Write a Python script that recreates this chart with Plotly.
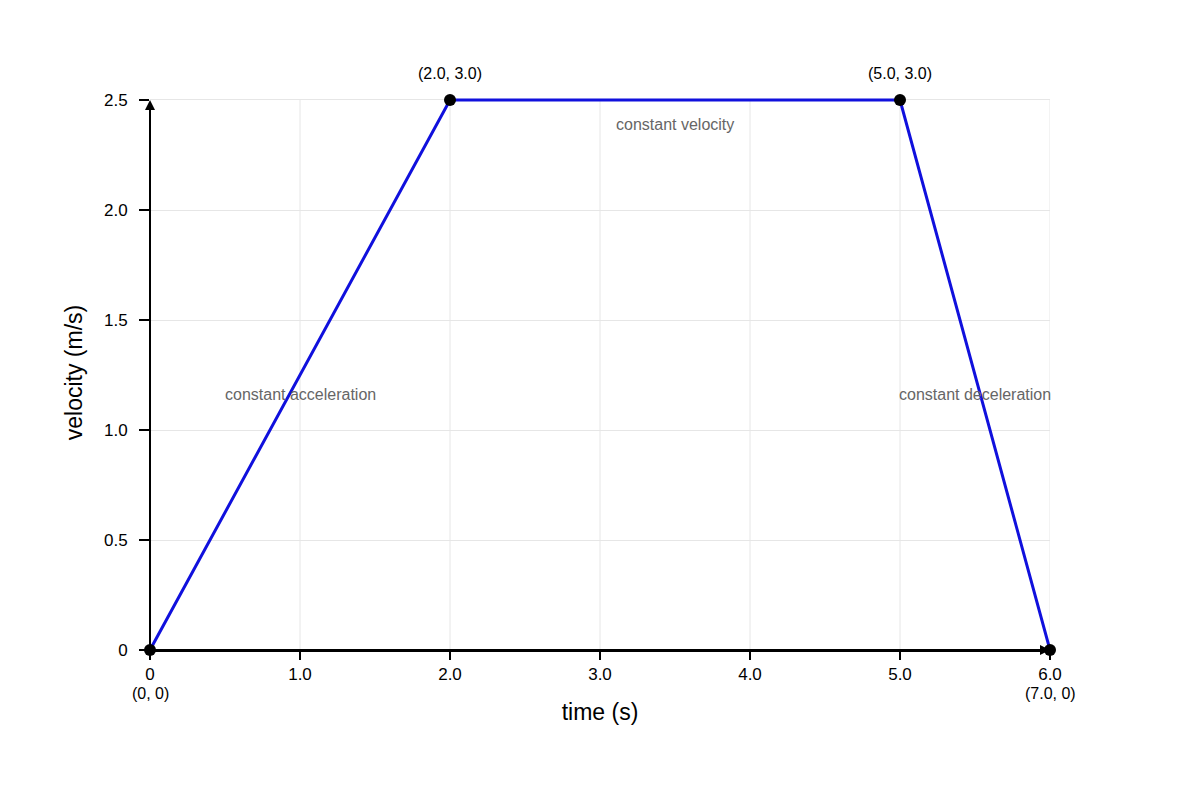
import plotly.graph_objects as go

# trapezoid velocity profile
time_s = [0, 2, 5, 6]
velocity = [0, 2.5, 2.5, 0]
point_labels = ['(0, 0)', '(2.0, 3.0)', '(5.0, 3.0)', '(7.0, 0)']
label_pos = ['below', 'above', 'above', 'below']

phase_x = [1.0, 3.5, 5.5]
phase_y = [1.16, 2.39, 1.16]
phase_text = ['constant acceleration', 'constant velocity', 'constant deceleration']

x_ticks = [0, 1, 2, 3, 4, 5, 6]
x_ticktext = ['0', '1.0', '2.0', '3.0', '4.0', '5.0', '6.0']
y_ticks = [0, 0.5, 1.0, 1.5, 2.0, 2.5]
y_ticktext = ['0', '0.5', '1.0', '1.5', '2.0', '2.5']
y_top = y_ticks[-1]

fig = go.Figure()
fig.add_trace(go.Scatter(
    x=time_s, y=velocity, mode='lines',
    line=dict(color='#1010dd', width=3),
    showlegend=False, cliponaxis=False, hoverinfo='skip'))

annotations = []
# axis arrows
annotations.append(dict(x=0, y=y_top, ax=0, ay=0, xref='x', yref='y', axref='x', ayref='y',
                        showarrow=True, arrowhead=2, arrowsize=1, arrowwidth=2, arrowcolor='black', text=''))
annotations.append(dict(x=x_ticks[-1], y=0, ax=0, ay=0, xref='x', yref='y', axref='x', ayref='y',
                        showarrow=True, arrowhead=2, arrowsize=1, arrowwidth=2, arrowcolor='black', text=''))
for x, y, t, pos in zip(time_s, velocity, point_labels, label_pos):
    annotations.append(dict(x=x, y=y, xref='x', yref='y', text=t, showarrow=False,
                            yshift=26 if pos == 'above' else -43,
                            font=dict(size=16, color='black')))
for x, y, t in zip(phase_x, phase_y, phase_text):
    annotations.append(dict(x=x, y=y, xref='x', yref='y', text=t, showarrow=False,
                            font=dict(size=16, color='#666666')))

# vertical grid drawn by hand so it stops at 2.5
shapes = [dict(type='line', xref='x', yref='y', x0=t, x1=t, y0=0, y1=y_top,
               line=dict(color='#e6e6e6', width=1), layer='below') for t in x_ticks[1:]]

fig.add_trace(go.Scatter(
    x=time_s, y=velocity, mode='markers',
    marker=dict(color='black', size=12),
    showlegend=False, cliponaxis=False, hoverinfo='skip'))

# a little headroom above 2.5 so the flat segment is not clipped
fig.update_layout(
    width=1200, height=800,
    margin=dict(l=142, r=158, t=87, b=158),
    plot_bgcolor='white', paper_bgcolor='white',
    font=dict(family='Liberation Sans, Arial, sans-serif', size=17, color='black'),
    annotations=annotations, shapes=shapes,
)
fig.update_xaxes(
    range=[0, 6], tickvals=x_ticks, ticktext=x_ticktext,
    showgrid=False, zeroline=False,
    showline=True, linecolor='black', linewidth=2,
    ticks='outside', ticklen=8, tickwidth=2, tickcolor='black',
    tickfont=dict(size=17),
    title=dict(text='time (s)', font=dict(size=23), standoff=20),
)
fig.update_yaxes(
    range=[0, 2.5227], tickvals=y_ticks, ticktext=y_ticktext,
    showgrid=True, gridcolor='#e6e6e6', gridwidth=1, zeroline=False,
    showline=False,
    ticks='outside', ticklen=10, tickwidth=2, tickcolor='black',
    ticklabelstandoff=8,
    tickfont=dict(size=17),
    title=dict(text='velocity (m/s)', font=dict(size=23), standoff=14),
)

fig.write_html("out.html")
